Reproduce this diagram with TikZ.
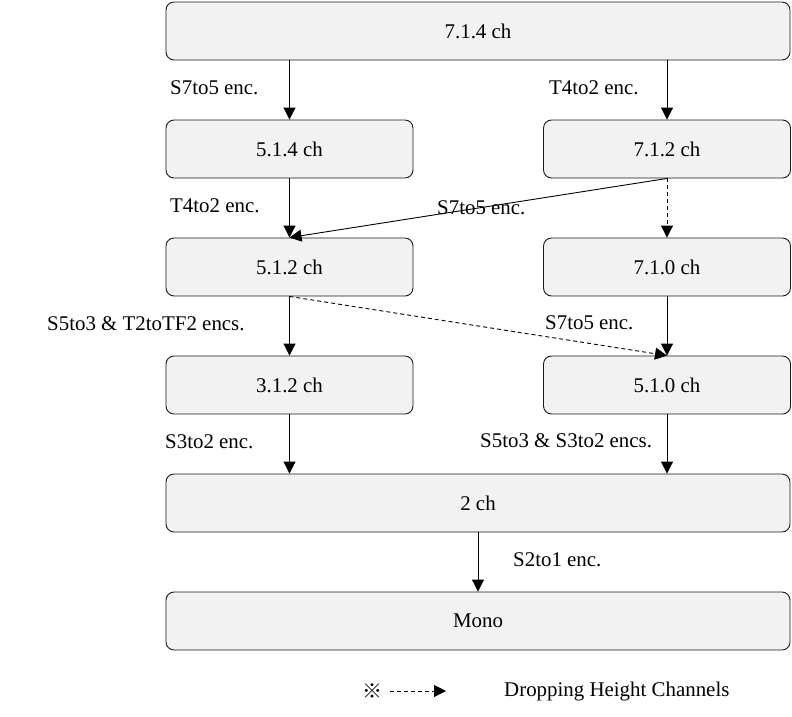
\documentclass[tikz,border=0pt]{standalone}
\usepackage{fontspec}
\setmainfont{Liberation Serif}
\newfontfamily\marksym{Noto Sans CJK SC}
\usepackage{tikz}
\usetikzlibrary{arrows.meta,positioning,calc}
\definecolor{ChanFill}{HTML}{F2F2F2}
\definecolor{ChanInk}{HTML}{1A1A1A}

\begin{document}
\begin{tikzpicture}[x=1pt,y=-1pt,
  every node/.style={align=center, font=\fontsize{20.9}{25}\selectfont, text=black},
  chbox/.style={draw=ChanInk, fill=ChanFill, line width=0.9pt, rounded corners=8pt,
    minimum height=58pt, inner sep=0pt},
  narrow/.style={chbox, minimum width=247pt},
  wide/.style={chbox, minimum width=624pt},
  enc/.style={anchor=west, inner sep=0pt},
  arr/.style={-{Triangle[length=12pt,width=12pt]}, line width=0.9pt, draw=black},
  drop/.style={arr, dash pattern=on 4pt off 3pt}]
  \useasboundingbox (0,0) rectangle (792,716);
  % channel layouts
  \node[wide]   (c714)  at (478,  31) {7.1.4 ch};
  \node[narrow] (c514)  at (289.5,149) {5.1.4 ch};
  \node[narrow] (c712)  at (667, 149) {7.1.2 ch};
  \node[narrow] (c512)  at (289.5,267) {5.1.2 ch};
  \node[narrow] (c710)  at (667, 267) {7.1.0 ch};
  \node[narrow] (c312)  at (289.5,385) {3.1.2 ch};
  \node[narrow] (c510)  at (667, 385) {5.1.0 ch};
  \node[wide]   (c2)    at (478, 503) {2 ch};
  \node[wide]   (cmono) at (478, 621) {Mono};
  % encoders
  \draw[arr]  (c514.north |- c714.south) -- (c514.north);
  \draw[arr]  (c712.north |- c714.south) -- (c712.north);
  \draw[arr]  (c514) -- (c512);
  \draw[arr]  (c712.south) -- (c512.north);
  \draw[drop] (c712) -- (c710);
  \draw[arr]  (c512) -- (c312);
  \draw[drop] (c512.south) -- (c510.north);
  \draw[arr]  (c710) -- (c510);
  \draw[arr]  (c312) -- (c312.south |- c2.north);
  \draw[arr]  (c510) -- (c510.south |- c2.north);
  \draw[arr]  (c2) -- (cmono);
  \node[enc] (e1) at (170,  88) {S7to5 enc.};
  \node[enc] (e2) at (549,  88) {T4to2 enc.};
  \node[enc] (e3) at (170, 206) {T4to2 enc.};
  \node[enc] (e4) at (437, 208) {S7to5 enc.};
  \node[enc] (e5) at (47,  324) {S5to3 \& T2toTF2 encs.};
  \node[enc] (e6) at (545, 323) {S7to5 enc.};
  \node[enc] (e7) at (165, 442) {S3to2 enc.};
  \node[enc] (e8) at (480, 441) {S5to3 \& S3to2 encs.};
  \node[enc] (e9) at (513, 560) {S2to1 enc.};
  % legend
  \node[font=\marksym\fontsize{20}{23}\selectfont] (mk) at (372,691) {※};
  \coordinate (l0) at (390,691);
  \coordinate (l1) at (446,691);
  \draw[drop] (l0) -- (l1);
  \node[enc] (lg) at (504,691) {Dropping Height Channels};
\end{tikzpicture}
\end{document}
